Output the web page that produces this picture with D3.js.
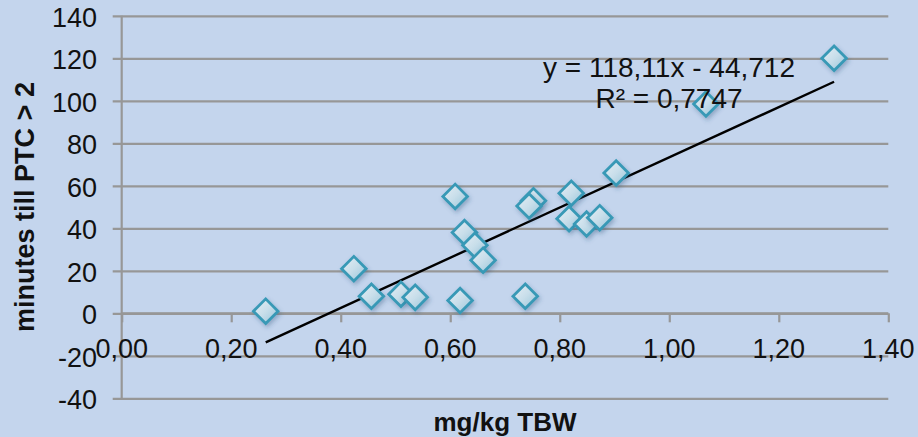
<!DOCTYPE html>
<html>
<head>
<meta charset="utf-8">
<script src="https://cdn.jsdelivr.net/npm/d3@7"></script>
<style>
  html, body { margin: 0; padding: 0; background: #c4d5ed; }
  svg { display: block; }
</style>
</head>
<body>
<svg id="chart" width="918" height="437"></svg>
<script>
// Dose (mg/kg TBW) and time until PTC > 2 (minutes)
const doseMgKg = [0.263, 0.424, 0.456, 0.510, 0.536, 0.609, 0.618, 0.626, 0.645, 0.660,
                  0.737, 0.752, 0.744, 0.821, 0.817, 0.849, 0.873, 0.903, 1.067, 1.301];
const minutesToPTC = [1, 21, 8, 9, 7.5, 55, 6, 38, 32, 25,
                      8, 53, 50.5, 56.5, 44.5, 42, 45, 66, 98.5, 120];

const xTicks = [0, 0.2, 0.4, 0.6, 0.8, 1.0, 1.2, 1.4];
const yTicks = [-40, -20, 0, 20, 40, 60, 80, 100, 120, 140];

// Linear trend line
const trendSlope = 118.11;
const trendIntercept = -44.712;
const trendLabels = ["y = 118,11x - 44,712", "R² = 0,7747"];

const xTitle = "mg/kg TBW";
const yTitle = "minutes till PTC > 2";

const W = 918, H = 437;
const plot = { left: 121.7, right: 888.3, top: 15.8, bottom: 398.3 };
const FONT = "'Liberation Sans', Arial, sans-serif";

const svg = d3.select("#chart");

const x = d3.scaleLinear().domain([0, 1.4]).range([plot.left, plot.right]);
const y = d3.scaleLinear().domain([-40, 140]).range([plot.bottom, plot.top]);

const locale = d3.formatLocale({ decimal: ",", thousands: ".", grouping: [3], currency: ["", ""] });
const fmtX = locale.format(".2f");

// Background
svg.append("rect").attr("width", W).attr("height", H).attr("fill", "#c4d5ed");

const defs = svg.append("defs");
const grad = defs.append("linearGradient").attr("id", "markerFill")
  .attr("x1", "0%").attr("y1", "0%").attr("x2", "100%").attr("y2", "100%");
grad.append("stop").attr("offset", "0%").attr("stop-color", "#e6eff5");
grad.append("stop").attr("offset", "50%").attr("stop-color", "#c8deea");
grad.append("stop").attr("offset", "100%").attr("stop-color", "#96c4d9");

const shadow = defs.append("filter").attr("id", "markerShadow")
  .attr("x", "-50%").attr("y", "-50%").attr("width", "200%").attr("height", "200%");
shadow.append("feDropShadow").attr("dx", 1.5).attr("dy", 2.5).attr("stdDeviation", 2)
  .attr("flood-color", "#2e4f78").attr("flood-opacity", 0.35);

const gridColor = "#979797";

// Horizontal gridlines (extending left of the axis as tick marks)
svg.append("g")
  .attr("transform", `translate(${plot.right},0)`)
  .call(d3.axisLeft(y).tickValues(yTicks).tickSize(plot.right - plot.left + 9).tickFormat(""))
  .call(g => g.select(".domain").remove())
  .call(g => g.selectAll(".tick line").attr("stroke", gridColor).attr("stroke-width", 2.2));

// Vertical axis line
svg.append("line")
  .attr("x1", x(0)).attr("x2", x(0))
  .attr("y1", y(140)).attr("y2", y(-40))
  .attr("stroke", gridColor).attr("stroke-width", 2.2);

// Horizontal axis at y = 0 with downward ticks
svg.append("g")
  .attr("transform", `translate(0,${y(0)})`)
  .call(d3.axisBottom(x).tickValues(xTicks).tickSize(9).tickFormat(""))
  .call(g => g.select(".domain").attr("stroke", gridColor).attr("stroke-width", 2.2)
    .attr("d", `M${plot.left},0H${plot.right}`))
  .call(g => g.selectAll(".tick line").attr("stroke", gridColor).attr("stroke-width", 2.2));

// Y tick labels
svg.append("g").selectAll("text").data(yTicks).join("text")
  .attr("x", 97).attr("y", d => y(d) + 2)
  .attr("text-anchor", "end").attr("dominant-baseline", "central")
  .attr("font-family", FONT).attr("font-size", 27).attr("fill", "#111")
  .text(d => String(d));

// X tick labels
svg.append("g").selectAll("text").data(xTicks).join("text")
  .attr("x", d => x(d)).attr("y", 358)
  .attr("text-anchor", "middle")
  .attr("font-family", FONT).attr("font-size", 27).attr("fill", "#111")
  .text(d => fmtX(d));

// Trend line across the data range
const xMin = d3.min(doseMgKg), xMax = d3.max(doseMgKg);
svg.append("line")
  .attr("x1", x(xMin)).attr("y1", y(trendSlope * xMin + trendIntercept))
  .attr("x2", x(xMax)).attr("y2", y(trendSlope * xMax + trendIntercept))
  .attr("stroke", "#000").attr("stroke-width", 2.4);

// Diamond markers
const points = doseMgKg.map((d, i) => ({ x: d, y: minutesToPTC[i] }));
const r = 12.3;
svg.append("g").selectAll("path").data(points).join("path")
  .attr("transform", d => `translate(${x(d.x)},${y(d.y)})`)
  .attr("d", `M0,${-r}L${r},0L0,${r}L${-r},0Z`)
  .attr("fill", "url(#markerFill)")
  .attr("stroke", "#3899b6").attr("stroke-width", 2.8)
  .attr("stroke-linejoin", "miter")
  .attr("filter", "url(#markerShadow)");

// Trend equation
svg.append("g").selectAll("text").data(trendLabels).join("text")
  .attr("x", 669).attr("y", (d, i) => 77 + i * 31)
  .attr("text-anchor", "middle")
  .attr("font-family", FONT).attr("font-size", 28).attr("fill", "#111")
  .text(d => d);

// Axis titles
svg.append("text")
  .attr("x", (plot.left + plot.right) / 2).attr("y", 431)
  .attr("text-anchor", "middle")
  .attr("font-family", FONT).attr("font-size", 26).attr("font-weight", "bold").attr("fill", "#111")
  .text(xTitle);

svg.append("text")
  .attr("transform", `translate(34,207) rotate(-90)`)
  .attr("text-anchor", "middle")
  .attr("font-family", FONT).attr("font-size", 27).attr("font-weight", "bold").attr("fill", "#111")
  .text(yTitle);
</script>
</body>
</html>
